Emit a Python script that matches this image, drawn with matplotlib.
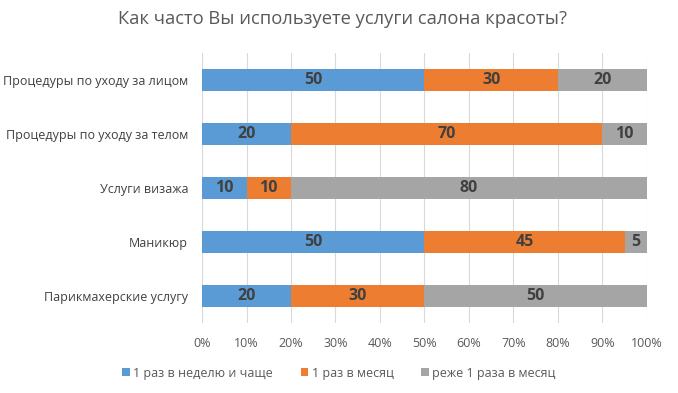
import matplotlib.pyplot as plt
from matplotlib.ticker import PercentFormatter

plt.rcParams['font.family'] = ['Open Sans', 'DejaVu Sans']

# Data
categories = [
    "Процедуры по уходу за лицом",
    "Процедуры по уходу за телом",
    "Услуги визажа",
    "Маникюр",
    "Парикмахерские услугу",
]
weekly = [50, 20, 10, 50, 20]
monthly = [30, 70, 10, 45, 30]
rarely = [20, 10, 80, 5, 50]
series_names = ["1 раз в неделю и чаще", "1 раз в месяц", "реже 1 раза в месяц"]
colors = ["#5B9BD5", "#ED7D31", "#A5A5A5"]

fig = plt.figure(figsize=(6.78, 3.93), dpi=100)
ax = fig.add_axes([0.298, 0.178, 0.656, 0.687])

y = list(range(len(categories)))
left = [0] * len(categories)
for vals, name, col in zip([weekly, monthly, rarely], series_names, colors):
    totals = [w + m + r for w, m, r in zip(weekly, monthly, rarely)]
    shares = [v / t for v, t in zip(vals, totals)]
    bars = ax.barh(y, shares, left=left, height=0.41, color=col, label=name, zorder=3)
    for b, v in zip(bars, vals):
        ax.text(b.get_x() + b.get_width() / 2, b.get_y() + b.get_height() / 2, str(v),
                ha="center", va="center", fontsize=11.5, fontweight="bold", color="#404040", zorder=4)
    left = [l + s for l, s in zip(left, shares)]

ax.set_xlim(0, 1)
ax.set_ylim(len(categories) - 0.5, -0.5)
ax.set_yticks(y)
ax.set_yticklabels(categories, fontsize=9.0, color="#404040")
ax.set_xticks([i / 10 for i in range(11)])
ax.xaxis.set_major_formatter(PercentFormatter(1.0, decimals=0))
ax.tick_params(axis="x", labelsize=9, colors="#595959", length=0, pad=10)
ax.tick_params(axis="y", length=0, pad=10)
ax.grid(axis="x", color="#D9D9D9", linewidth=0.8, zorder=0)
for s in ax.spines.values():
    s.set_visible(False)

fig.suptitle("Как часто Вы используете услуги салона красоты?", x=0.505, y=0.975,
             fontsize=13.2, color="#595959")
fig.legend(loc="center", bbox_to_anchor=(0.5, 0.05), ncol=3, frameon=False,
           fontsize=9, handlelength=0.6, handleheight=0.6, handletextpad=0.3,
           columnspacing=2.2, labelcolor="#595959")

fig.savefig("out.png", dpi=100)
